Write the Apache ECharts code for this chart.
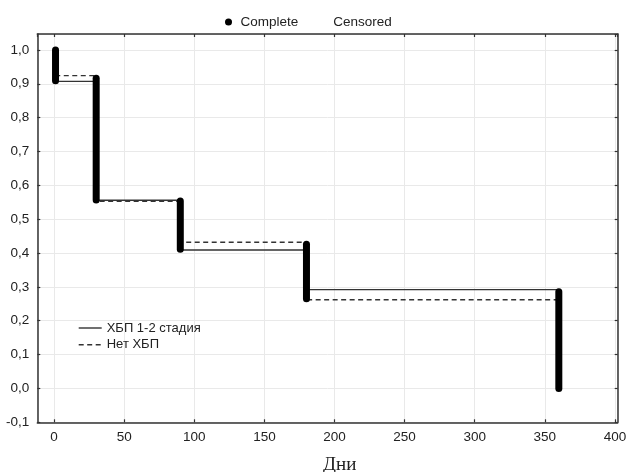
<!DOCTYPE html>
<html>
<head>
<meta charset="utf-8">
<script src="https://cdn.jsdelivr.net/npm/echarts@6/dist/echarts.min.js"></script>
<style>
html,body{margin:0;padding:0;background:#fff;}
#chart{width:632px;height:472px;}
</style>
</head>
<body>
<div id="chart"></div>
<script>
// Kaplan–Meier step curves
const solidName = 'ХБП 1-2 стадия';
const dashedName = 'Нет ХБП';
const solidTimes = [0, 1, 30, 90, 180, 360];
const solidSurv = [1.0, 0.907, 0.556, 0.409, 0.292, 0.0];
const dashedTimes = [0, 1, 30, 90, 180, 360];
const dashedSurv = [1.0, 0.924, 0.553, 0.432, 0.262, 0.0];
// "Complete" observation marks (stacked circles), per time: top and bottom
const completeTimes = [1, 30, 90, 180, 360];
const completeTop = [1.0, 0.916, 0.554, 0.426, 0.286];
const completeBottom = [0.909, 0.557, 0.411, 0.265, 0.0];
// axes
const xLabels = [0, 50, 100, 150, 200, 250, 300, 350, 400];
const xMin = -12, xMax = 402;
const yMin = -0.1, yMax = 1.047, yStep = 0.1;
const xTitle = 'Дни';

const font = 'Liberation Sans';
const frameColor = '#333';
const gridColor = '#e9e9e9';

function pairs(xs, ys) { return xs.map((x, i) => [x, ys[i]]); }

const series = [
  {
    name: solidName, type: 'line', step: 'end', symbol: 'none',
    data: pairs(solidTimes, solidSurv),
    lineStyle: { color: '#333', width: 1.4, type: 'solid' },
    itemStyle: { color: '#333' }, z: 2, animation: false
  },
  {
    name: dashedName, type: 'line', step: 'end', symbol: 'none',
    data: pairs(dashedTimes, dashedSurv),
    lineStyle: { color: '#333', width: 1.4, type: [5, 3.5] },
    itemStyle: { color: '#333' }, z: 2, animation: false
  },
  {
    name: 'Censored', type: 'scatter', data: [],
    itemStyle: { color: '#000' }
  }
];
completeTimes.forEach((t, i) => {
  series.push({
    name: 'Complete', type: 'line', symbol: 'none',
    data: [[t, completeTop[i]], [t, completeBottom[i]]],
    lineStyle: { color: '#000', width: 7, cap: 'round' },
    itemStyle: { color: '#000' }, z: 3, animation: false
  });
});

const axisCommon = {
  axisLine: { show: true, onZero: false, lineStyle: { color: frameColor, width: 1.5 } },
  axisTick: { show: true, inside: true, length: 3, lineStyle: { color: frameColor, width: 1.2 } }
};

const option = {
  animation: false,
  backgroundColor: '#fff',
  title: {
    text: xTitle, left: 318, top: 451,
    textStyle: { fontFamily: 'Liberation Serif', fontSize: 19, fontWeight: 'normal', color: '#222' }
  },
  legend: [
    {
      data: [{ name: 'Complete', icon: 'circle' }, { name: 'Censored', icon: 'none' }],
      left: 220, top: 10, itemWidth: 14, itemHeight: 7, itemGap: 16,
      selectedMode: false,
      textStyle: { fontFamily: font, fontSize: 13.5, color: '#222' }
    },
    {
      data: [solidName, dashedName],
      orient: 'vertical', left: 73, top: 316, itemWidth: 23, itemHeight: 14, itemGap: 2.7,
      selectedMode: false,
      itemStyle: { opacity: 0 },
      lineStyle: { width: 1.4, color: '#333' },
      textStyle: { fontFamily: font, fontSize: 13, color: '#222', lineHeight: 14 }
    }
  ],
  grid: { left: 37.3, right: 14.3, top: 34, bottom: 49.7, containLabel: false },
  xAxis: [
    Object.assign({
      type: 'value', position: 'bottom', min: xMin, max: xMax, splitNumber: 8,
      axisLabel: {
        fontFamily: font, fontSize: 13.5, color: '#222', margin: 8,
        showMinLabel: false, showMaxLabel: false,
        formatter: v => (xLabels.indexOf(Math.round(v)) >= 0 && Math.abs(v - Math.round(v)) < 1e-6) ? String(Math.round(v)) : ''
      },
      splitLine: { show: true, lineStyle: { color: gridColor, width: 1 } }
    }, axisCommon),
    Object.assign({
      type: 'value', position: 'top', min: xMin, max: xMax, splitNumber: 8,
      axisLabel: { show: false }, splitLine: { show: false }
    }, axisCommon)
  ],
  yAxis: [
    Object.assign({
      type: 'value', position: 'left', min: yMin, max: yMax, interval: yStep,
      axisLabel: {
        fontFamily: font, fontSize: 13.5, color: '#222', margin: 8,
        showMaxLabel: false,
        formatter: v => v.toFixed(1).replace('.', ',')
      },
      splitLine: { show: true, lineStyle: { color: gridColor, width: 1 } }
    }, axisCommon),
    Object.assign({
      type: 'value', position: 'right', min: yMin, max: yMax, interval: yStep,
      axisLabel: { show: false }, splitLine: { show: false }
    }, axisCommon)
  ],
  series: series
};

const chart = echarts.init(document.getElementById('chart'), null, { renderer: 'canvas' });
chart.setOption(option);
</script>
</body>
</html>
